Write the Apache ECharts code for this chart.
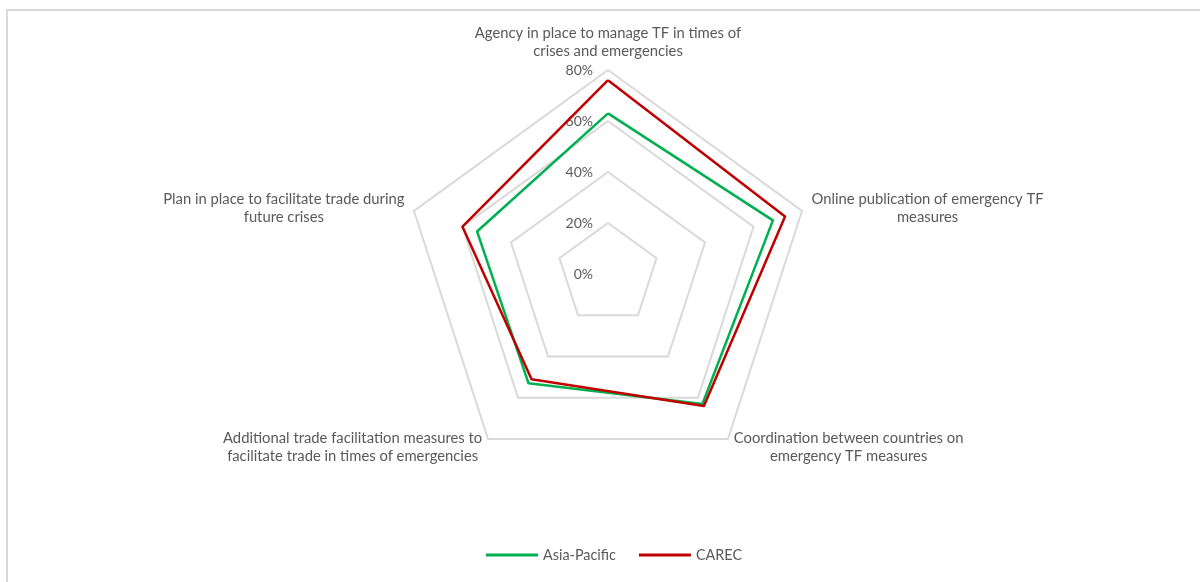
<!DOCTYPE html>
<html><head><meta charset="utf-8">
<script src="https://cdn.jsdelivr.net/npm/echarts@6/dist/echarts.min.js"></script>
<style>
html,body{margin:0;padding:0;background:#fff;overflow:hidden}
#chart{position:absolute;left:0;top:0;width:1200px;height:582px}
#frame{position:absolute;left:6px;top:9px;width:1300px;height:700px;border-left:2px solid #d9d9d9;border-top:2px solid #d9d9d9;pointer-events:none}
</style></head><body>
<div id="chart"></div><div id="frame"></div>
<script>
const categories = [
  'Agency in place to manage TF in times of\ncrises and emergencies',
  'Online publication of emergency TF\nmeasures',
  'Coordination between countries on\nemergency TF measures',
  'Additional trade facilitation measures to\nfacilitate trade in times of emergencies',
  'Plan in place to facilitate trade during\nfuture crises'
];
const seriesNames = ['Asia-Pacific', 'CAREC'];
const asiaPacific = [63, 68, 63, 53, 54];
const carec = [76, 73, 64, 51, 60];
const axisMin = 0, axisMax = 80, axisStep = 20;
const tickSuffix = '%';

const FONT = 'Lato';
const TXT = '#595959';
const colors = ['#00B050', '#C00000'];

// ECharts lays indicators counter-clockwise; the reference runs clockwise from the top.
const order = [0].concat(categories.slice(1).map((_, i) => categories.length - 1 - i));
const reorder = arr => order.map(i => arr[i]);

const chart = echarts.init(document.getElementById('chart'), null, {renderer: 'canvas'});
chart.setOption({
  backgroundColor: '#fff',
  animation: false,
  textStyle: {fontFamily: FONT},
  legend: {
    left: 486, top: 548, padding: 0,
    icon: 'rect', itemWidth: 52, itemHeight: 3, itemGap: 23,
    textStyle: {color: TXT, fontSize: 14.4, fontFamily: FONT},
    data: seriesNames
  },
  radar: {
    center: [608, 274],
    radius: 204,
    startAngle: 90,
    splitNumber: (axisMax - axisMin) / axisStep,
    shape: 'polygon',
    axisName: {
      color: TXT, fontSize: 14.8, fontFamily: FONT,
      formatter: function (name) {
        return name.split('\n').map(l => '{c|' + l + '}').join('\n');
      },
      rich: {c: {align: 'center', color: TXT, fontSize: 14.8, fontFamily: FONT, lineHeight: 18}}
    },
    nameGap: 10,
    axisLine: {show: false},
    axisTick: {show: false},
    splitArea: {show: false},
    splitLine: {lineStyle: {color: '#D9D9D9', width: 2}},
    axisLabel: {show: false, color: TXT, fontSize: 14, fontFamily: FONT, margin: 15},
    indicator: reorder(categories).map((c, i) => {
      const o = {name: c, min: axisMin, max: axisMax};
      if (i === 0) o.axisLabel = {show: true, formatter: v => v + tickSuffix};
      return o;
    })
  },
  series: [{
    type: 'radar',
    symbol: 'none',
    data: [
      {name: seriesNames[0], value: reorder(asiaPacific), itemStyle: {color: colors[0]}, lineStyle: {color: colors[0], width: 2.5}},
      {name: seriesNames[1], value: reorder(carec), itemStyle: {color: colors[1]}, lineStyle: {color: colors[1], width: 2.5}}
    ]
  }]
});
</script></body></html>
